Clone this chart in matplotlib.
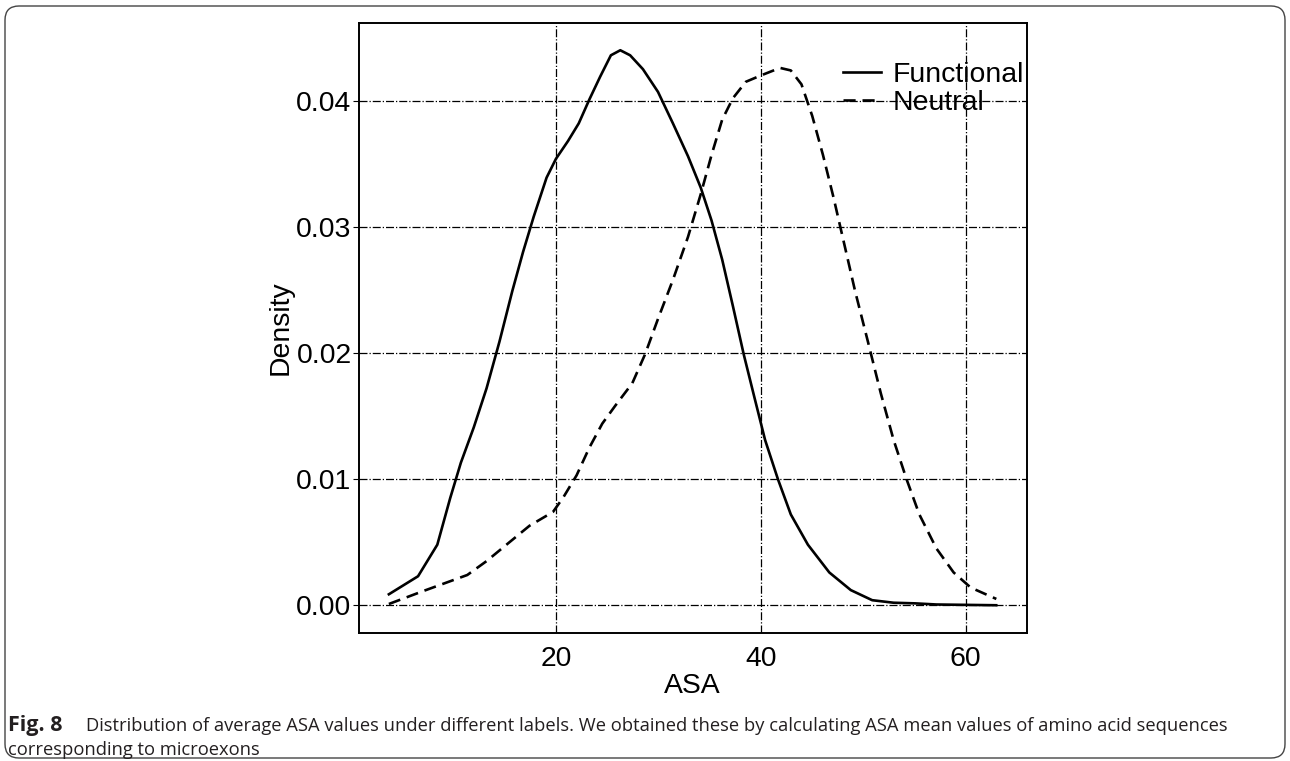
import matplotlib
matplotlib.use("Agg")
import matplotlib.pyplot as plt
from matplotlib.patches import FancyBboxPatch
from matplotlib.transforms import IdentityTransform

# values (ASA vs density)
func_x = [3.68, 6.53, 8.41, 9.67, 10.71, 11.97, 13.22, 14.48, 15.73, 16.78,
          17.82, 19.08, 20.0, 21.17, 22.22, 23.26, 24.31, 25.36, 26.28, 27.24,
          28.49, 29.96, 31.42, 32.89, 34.14, 35.19, 36.23, 37.28, 38.33, 39.37,
          40.42, 41.67, 42.93, 44.60, 46.69, 48.79, 50.88, 52.97, 55.06, 57.15,
          62.99]
func_y = [0.00087, 0.0023, 0.0048, 0.0085, 0.0113, 0.0141, 0.0172, 0.0209, 0.0249, 0.0280,
          0.0308, 0.0339, 0.0354, 0.0368, 0.0382, 0.0401, 0.0419, 0.0436, 0.0440, 0.0436,
          0.0425, 0.0407, 0.0382, 0.0356, 0.0331, 0.0305, 0.0274, 0.0237, 0.0199, 0.0165,
          0.0131, 0.0100, 0.0072, 0.0048, 0.0026, 0.0012, 0.0004, 0.0002, 0.00015, 0.00006,
          0.0]

neut_x = [3.68, 6.95, 11.34, 13.22, 15.31, 17.41, 19.71, 20.75, 22.01, 23.26,
          24.52, 25.77, 27.45, 28.70, 29.96, 31.42, 32.89, 34.14, 35.19, 36.23,
          37.28, 38.54, 40.0, 41.88, 42.93, 43.97, 45.02, 46.07, 47.11, 48.16,
          49.21, 50.46, 51.72, 52.97, 54.23, 55.48, 57.15, 58.83, 60.50, 63.0]
neut_y = [0.0001, 0.0011, 0.0024, 0.0035, 0.0049, 0.0063, 0.0074, 0.0086, 0.0103, 0.0125,
          0.0144, 0.0158, 0.0176, 0.0199, 0.0227, 0.0258, 0.0292, 0.0326, 0.0357, 0.0385,
          0.0402, 0.0415, 0.0420, 0.0426, 0.0424, 0.0413, 0.0388, 0.0357, 0.0323, 0.0286,
          0.0249, 0.0209, 0.0168, 0.0131, 0.0100, 0.0072, 0.0045, 0.0026, 0.0014, 0.0005]

x_ticks = [20, 40, 60]
y_ticks = [0.00, 0.01, 0.02, 0.03, 0.04]

caption_bold = "Fig. 8"
caption_1 = ("Distribution of average ASA values under different labels. We obtained these "
             "by calculating ASA mean values of amino acid sequences")
caption_2 = "corresponding to microexons"

W, H = 1290, 761
plt.rcParams['font.family'] = ['Liberation Sans', 'DejaVu Sans']
fs = 20.4

fig = plt.figure(figsize=(W / 100, H / 100), dpi=100)
ax = fig.add_axes([358.5 / W, 1 - 633 / H, (1026.7 - 358.5) / W, (633 - 22.5) / H])

ax.plot(func_x, func_y, color='black', lw=1.9, label='Functional')
ax.plot(neut_x, neut_y, color='black', lw=1.9, ls=(0, (4.6, 2.6)), label='Neutral')

ax.set_xticks(x_ticks)
ax.set_yticks(y_ticks)
ax.set_yticklabels(['%.2f' % v for v in y_ticks])
ax.grid(True, color='black', ls='-.', lw=0.9)
ax.tick_params(axis='x', length=0, pad=9, labelsize=fs)
ax.tick_params(axis='y', length=4, pad=1, labelsize=fs)
for s in ax.spines.values():
    s.set_linewidth(1.4)

ax.set_xlabel('ASA', fontsize=fs, labelpad=1)
ax.set_ylabel('Density', fontsize=fs, labelpad=2)

ax.legend(loc='upper right', bbox_to_anchor=(1.0, 0.94), frameon=False, fontsize=fs,
          borderaxespad=0, borderpad=0.1, handlelength=1.35, handletextpad=0.4,
          labelspacing=0.06)

# caption and rounded border
cap_font = ['Open Sans', 'DejaVu Sans']
fig.text(8 / W, 1 - 726 / H, caption_bold, fontsize=15.5, fontweight='bold',
         color='#231f20', va='center', family=cap_font)
fig.text(86 / W, 1 - 726 / H, caption_1, fontsize=13.2, color='#231f20', va='center',
         family=cap_font)
fig.text(8 / W, 1 - 750 / H, caption_2, fontsize=13.2, color='#231f20', va='center',
         family=cap_font)

box = FancyBboxPatch((5, 3), W - 10, H - 9, boxstyle='round,pad=0,rounding_size=14',
                     transform=IdentityTransform(), fill=False, ec='#444444', lw=1.0)
fig.add_artist(box)

fig.savefig('out.png', dpi=100)
